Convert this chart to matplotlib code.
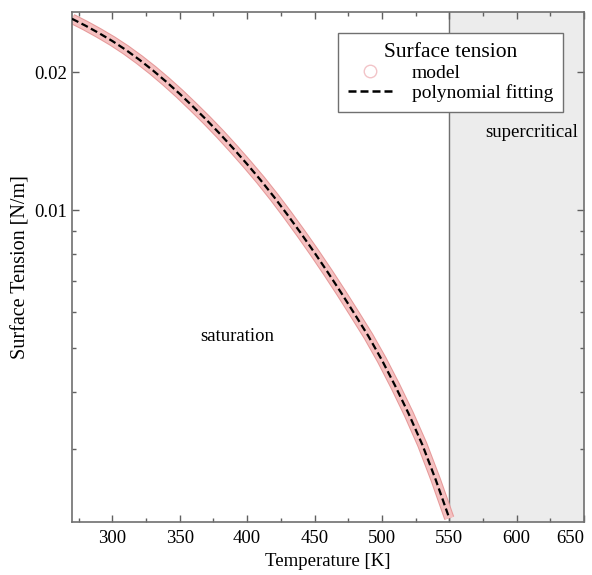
import matplotlib
matplotlib.use('Agg')
import matplotlib.pyplot as plt
import matplotlib.patheffects as pe
from matplotlib.lines import Line2D
from matplotlib.ticker import FixedLocator, NullFormatter

plt.rcParams['font.family'] = ['Liberation Serif', 'DejaVu Serif']

# temperature [K] and surface tension [N/m]
temp = [270, 280, 290, 300, 310, 320, 330, 340, 350, 360, 370, 380, 390, 400,
        410, 420, 430, 440, 450, 460, 470, 480, 490, 500, 510, 520, 530, 540, 550]
sigma = [0.02620, 0.02531, 0.02438, 0.02342, 0.02240, 0.02132, 0.02021, 0.01908,
         0.01795, 0.01682, 0.01573, 0.01466, 0.01361, 0.01260, 0.01163, 0.01068,
         0.00976, 0.00889, 0.00807, 0.00730, 0.00658, 0.00591, 0.00530, 0.00470,
         0.00412, 0.00358, 0.00307, 0.00257, 0.00212]

t_crit = 550
x_ticks = [300, 350, 400, 450, 500, 550, 600, 650]
x_minor = [275, 325, 375, 425, 475, 525, 575, 625]
y_major = [0.01, 0.02]
y_minor = [0.003, 0.004, 0.005, 0.006, 0.007, 0.008, 0.009]

fig = plt.figure(figsize=(5.92, 5.75), dpi=100)
ax = fig.add_axes([0.1216, 0.0922, 0.8649, 0.8868])

# supercritical region
ax.axvspan(t_crit, 650, color='#ececec', zorder=0)
ax.axvline(t_crit, color='#707070', lw=1.0, zorder=1)

# model band
ax.plot(temp, sigma, color='#f5c0c0', lw=6.0, solid_capstyle='butt', zorder=2,
        path_effects=[pe.Stroke(linewidth=7.5, foreground='#e69a9a'), pe.Normal()])
# polynomial fit
ax.plot(temp, sigma, color='black', lw=1.6, dashes=(3.2, 1.6), zorder=3)

ax.set_yscale('log')
ax.set_xlim(270, 650)
ax.set_ylim(0.00208, 0.0271)

ax.xaxis.set_major_locator(FixedLocator(x_ticks))
ax.xaxis.set_minor_locator(FixedLocator(x_minor))
ax.yaxis.set_major_locator(FixedLocator(y_major))
ax.yaxis.set_minor_locator(FixedLocator(y_minor))
ax.set_yticklabels(['0.01', '0.02'])
ax.yaxis.set_minor_formatter(NullFormatter())

ax.tick_params(which='both', direction='in', top=True, right=True,
               colors='#606060', labelcolor='black', labelsize=13.5)
ax.tick_params(which='major', length=5, width=1)
ax.tick_params(which='minor', length=3, width=1)
ax.tick_params(axis='x', pad=6)
for s in ax.spines.values():
    s.set_color('#707070')
    s.set_linewidth(1.2)
# last x label squeezed in at the right edge
ax.get_xticklabels()[-1].set_ha('right')
ax.get_xticklabels()[-1].set_x(652)

ax.set_xlabel('Temperature [K]', fontsize=13.5, labelpad=4)
ax.set_ylabel('Surface Tension [N/m]', fontsize=14.5, labelpad=3)

ax.text(392.5, 0.0053, 'saturation', fontsize=13.5, ha='center', va='center')
ax.text(646, 0.0148, 'supercritical', fontsize=13.5, ha='right', va='center')

handles = [Line2D([], [], ls='none', marker='o', ms=9, mfc='none', mec='#f2c4c8', mew=1.0),
           Line2D([], [], color='black', lw=1.8, dashes=(3.2, 1.6))]
leg = ax.legend(handles, ['model', 'polynomial fitting'], title='Surface tension',
                loc='upper right', bbox_to_anchor=(0.959, 0.959), fontsize=14,
                title_fontsize=15.5, fancybox=False, framealpha=1, edgecolor='#707070',
                borderpad=0.5, labelspacing=0.12, handlelength=2.3, handletextpad=1.0,
                borderaxespad=0)
leg.get_frame().set_linewidth(1.0)
leg.set_zorder(5)

fig.savefig('out.png', dpi=100)
